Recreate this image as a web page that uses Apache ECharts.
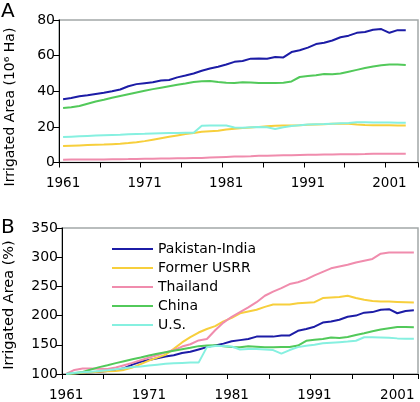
<!DOCTYPE html>
<html>
<head>
<meta charset="utf-8">
<script src="https://cdn.jsdelivr.net/npm/echarts@6/dist/echarts.min.js"></script>
<style>html,body{margin:0;padding:0;background:#fff;}#c{width:420px;height:402px;}</style>
</head>
<body>
<div id="c"></div>
<script>
var years = [1961,1962,1963,1964,1965,1966,1967,1968,1969,1970,1971,1972,1973,1974,1975,1976,1977,1978,1979,1980,1981,1982,1983,1984,1985,1986,1987,1988,1989,1990,1991,1992,1993,1994,1995,1996,1997,1998,1999,2000,2001,2002,2003];
var yearsTop = years.concat([2004]);
var seriesNames = ['Pakistan-India','Former USRR','Thailand','China','U.S.'];
var colors = ['#1c1ca6','#f7cf3c','#f08cad','#52c95a','#86f0e0'];

// Panel A: irrigated area, 10^6 ha
var areaPakInd = [35.5,36.2,37.2,37.8,38.5,39.2,40.0,41.0,42.8,44.0,44.5,45.0,46.0,46.3,47.8,48.8,50.0,51.5,52.8,53.8,55.0,56.5,57.0,58.3,58.4,58.3,59.2,59.0,62.0,63.0,64.5,66.5,67.2,68.5,70.3,71.2,72.8,73.3,74.5,74.9,72.8,74.3,74.3];
var areaUSSR = [9.2,9.4,9.6,9.8,10.0,10.1,10.3,10.5,10.9,11.4,12.0,12.8,13.6,14.4,15.2,16.0,16.6,17.2,17.5,17.8,18.5,19.0,19.3,19.7,20.0,20.3,20.6,20.8,20.8,20.9,21.2,21.4,21.5,21.7,21.8,21.8,21.3,21.0,20.9,20.9,20.9,20.8,20.8];
var areaThai = [1.6,1.7,1.75,1.75,1.75,1.75,1.8,1.85,1.9,2.0,2.05,2.1,2.2,2.25,2.35,2.4,2.5,2.55,2.8,3.0,3.15,3.3,3.4,3.55,3.75,3.85,3.95,4.05,4.1,4.2,4.3,4.4,4.5,4.55,4.6,4.65,4.7,4.75,4.9,4.93,4.93,4.93,4.93];
var areaChina = [30.6,31.0,31.7,33.0,34.2,35.2,36.3,37.3,38.3,39.3,40.3,41.2,42.0,42.8,43.6,44.3,45.2,45.6,45.7,45.2,44.8,44.6,45.1,44.9,44.6,44.6,44.7,44.8,45.5,48.0,48.5,49.0,49.7,49.5,50.0,51.0,52.0,53.0,53.9,54.6,55.0,55.0,54.8];
var areaUS = [14.3,14.5,14.7,14.9,15.1,15.3,15.5,15.6,15.8,16.0,16.1,16.3,16.4,16.5,16.6,16.7,16.7,20.6,20.8,20.8,20.8,19.6,19.5,19.8,19.9,19.8,18.8,19.8,20.5,20.9,21.3,21.5,21.6,21.8,22.0,22.2,22.6,22.6,22.5,22.4,22.4,22.3,22.3];

// Panel B: irrigated area, % of 1961
var pctPakInd = [100,101,102,103,104,105,107,110,116,121,124,127,130,132,136,138,142,146,149,152,156,158,160,164,164,164,166,166,174,177,181,188,190,193,198,200,205,206,210,211,204,208,209];
var pctUSSR = [100,101,102,103,104,104.5,105,107,111,117,123,128,133,143,154,163,171,177,182,190,196,204,207,210,215,219,219,219,221,222,223,230,231,232,234,230,227,225,224,224,223.5,223,222.5];
var pctThai = [100,107,109.5,109.5,109,108.5,111,115,119,123.5,128,132,137,141,147,151,157.5,160,175,188,198,206,214,223,234,241,247,254,257,262,269,275,281,284,287,291,294,297,306,308,308,308,308];
var pctChina = [100,101.3,103.6,107.8,111.8,115,118.6,121.9,125.2,128.4,131.7,134.6,137.3,139.9,142.5,144.8,147.7,149,149.3,147.7,146.4,145.8,147.4,146.7,145.8,145.8,146.1,146.4,148.7,156.9,158.5,160.1,162.4,161.8,163.4,166.7,169.9,173.2,176.1,178.4,180.5,180.5,180];
var pctUS = [100,102,103,104,105,106.5,108,110,112,113,114.5,116,117.5,118.5,119,119.5,119.5,146,148,148,147,142,143,143,142,141,135,141,146,148.5,150,152.5,153.5,154.5,155.5,157,163,163,162.5,162,161,160.5,160.5];

var yTicksA = {min: 0, max: 80, interval: 20};
var yTicksB = {min: 100, max: 350, interval: 50};

var FONT = 'DejaVu Sans';
var areaData = [areaPakInd, areaUSSR, areaThai, areaChina, areaUS];
var pctData = [pctPakInd, pctUSSR, pctThai, pctChina, pctUS];

function xAxisCfg(idx, cats) {
  return {
    type: 'category', gridIndex: idx, data: cats, boundaryGap: true,
    axisLine: {show: true, onZero: false, lineStyle: {color: '#000', width: 1}},
    axisTick: {show: true, length: 5, lineStyle: {color: '#000'},
      interval: function (i) { return i % 5 === 0; }},
    axisLabel: {color: '#000', fontFamily: FONT, fontSize: 13.5, margin: 14,
      interval: function (i) { return i % 10 === 0; }},
    splitLine: {show: false}
  };
}
function yAxisCfg(idx, t) {
  return {
    type: 'value', gridIndex: idx, min: t.min, max: t.max, interval: t.interval,
    axisLine: {show: true, lineStyle: {color: '#000', width: 1}},
    axisTick: {show: true, length: 6, lineStyle: {color: '#000'}},
    axisLabel: {color: '#000', fontFamily: FONT, fontSize: 14, margin: 4},
    splitLine: {show: false}
  };
}

var series = [];
seriesNames.forEach(function (n, i) {
  series.push({name: n, type: 'line', xAxisIndex: 0, yAxisIndex: 0, data: areaData[i],
    symbol: 'none', lineStyle: {color: colors[i], width: 2}, itemStyle: {color: colors[i]}, z: 2 + i});
});
seriesNames.forEach(function (n, i) {
  series.push({name: n, type: 'line', xAxisIndex: 1, yAxisIndex: 1, data: pctData[i],
    symbol: 'none', lineStyle: {color: colors[i], width: 2}, itemStyle: {color: colors[i]}, z: 2 + i});
});

var chart = echarts.init(document.getElementById('c'), null, {renderer: 'canvas'});
chart.setOption({
  animation: false,
  backgroundColor: '#fff',
  grid: [
    {left: 59, right: 2, top: 20, height: 142.5, show: true, borderColor: '#a3a8a8', borderWidth: 1.5, backgroundColor: 'transparent'},
    {left: 62, right: 2, top: 228, height: 147.7, show: true, borderColor: '#a3a8a8', borderWidth: 1.5, backgroundColor: 'transparent'}
  ],
  xAxis: [xAxisCfg(0, yearsTop), xAxisCfg(1, years)],
  yAxis: [yAxisCfg(0, yTicksA), yAxisCfg(1, yTicksB)],
  legend: {
    data: seriesNames, orient: 'vertical', left: 107, top: 236,
    icon: 'rect', itemWidth: 41, itemHeight: 2, itemGap: 3,
    textStyle: {color: '#000', fontFamily: FONT, fontSize: 14, lineHeight: 16},
    selectedMode: false
  },
  graphic: [
    {type: 'text', left: 1, top: 2, style: {text: 'A', font: '20px "DejaVu Sans"', fill: '#000'}},
    {type: 'text', left: 1, top: 218, style: {text: 'B', font: '20px "DejaVu Sans"', fill: '#000'}},
    {type: 'text', x: 10, y: 107, rotation: Math.PI / 2,
      style: {text: 'Irrigated Area (10\u2076 Ha)', font: '14px "DejaVu Sans"', fill: '#000', align: 'center', verticalAlign: 'middle'}},
    {type: 'text', x: 9.5, y: 305, rotation: Math.PI / 2,
      style: {text: 'Irrigated Area (%)', font: '14.5px "DejaVu Sans"', fill: '#000', align: 'center', verticalAlign: 'middle'}}
  ],
  series: series
});
</script>
</body>
</html>
